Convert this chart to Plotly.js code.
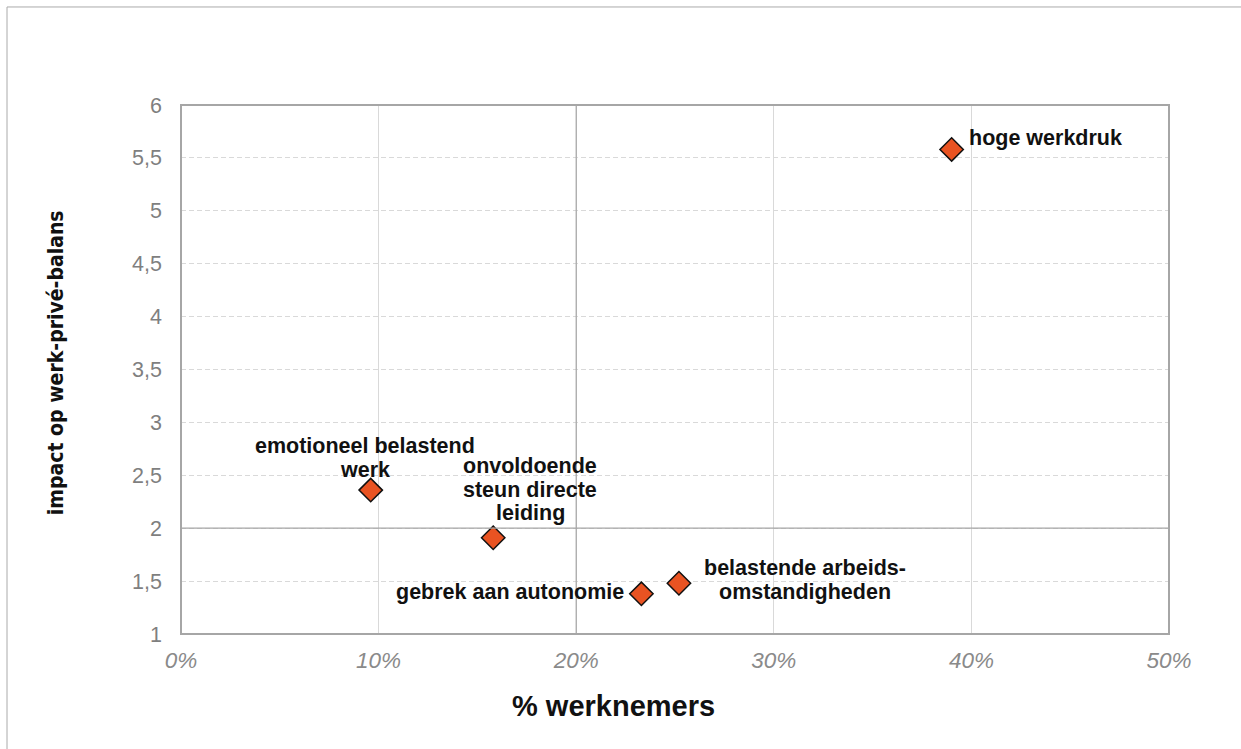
<!DOCTYPE html>
<html><head><meta charset="utf-8">
<script src="https://cdn.plot.ly/plotly-3.0.1.min.js"></script>
<style>html,body{margin:0;padding:0;background:#fff;}#chart{width:1241px;height:749px;}</style>
</head><body><div id="chart"></div>
<script>
const labels = ["hoge werkdruk", "emotioneel belastend<br>werk", "onvoldoende<br>steun directe<br>leiding", "gebrek aan autonomie", "belastende arbeids-<br>omstandigheden"];
const pctWorkers = [0.39, 0.096, 0.158, 0.233, 0.252];
const impact = [5.58, 2.36, 1.91, 1.38, 1.48];
const xTicks = [0, 0.1, 0.2, 0.3, 0.4, 0.5];
const yTicks = [1, 1.5, 2, 2.5, 3, 3.5, 4, 4.5, 5, 5.5, 6];
const refX = 0.2, refY = 2;

// label placement: [xanchor, xshift(px), yshift of block centre above marker(px)]
const placement = [
  ['left', 15, 11],
  ['center', -6, 32],
  ['center', 37, 48],
  ['right', -15, 2],
  ['center', 126, 3]
];
const lineGap = 23.5;
const labelFont = {family: 'Liberation Sans, Arial, sans-serif', size: 21.5, color: '#111'};

const annotations = [];
labels.forEach((t, i) => {
  const lines = t.split('<br>');
  const n = lines.length;
  lines.forEach((ln, j) => {
    annotations.push({
      x: pctWorkers[i], y: impact[i], xref: 'x', yref: 'y', text: '<b>' + ln + '</b>', showarrow: false,
      xanchor: placement[i][0], yanchor: 'middle',
      xshift: placement[i][1], yshift: placement[i][2] + ((n - 1) / 2 - j) * lineGap,
      font: labelFont, align: 'center'
    });
  });
});
annotations.push({
  xref: 'paper', yref: 'paper', x: 0.438, y: -0.136, yanchor: 'middle', xanchor: 'center', showarrow: false,
  text: '<b>% werknemers</b>', font: {family: 'Liberation Sans, Arial, sans-serif', size: 29, color: '#111'}
});
annotations.push({
  xref: 'paper', yref: 'paper', x: -0.1265, y: 0.512, xanchor: 'center', yanchor: 'middle', showarrow: false, textangle: -90,
  text: '<b>impact op werk-privé-balans</b>', font: {family: 'DejaVu Sans Condensed, DejaVu Sans, sans-serif', size: 21, color: '#111'}
});

const trace = {
  x: pctWorkers, y: impact, type: 'scatter', mode: 'markers', hoverinfo: 'skip',
  marker: {symbol: 'diamond', size: 18, color: '#E95322', line: {color: '#111', width: 1.5}}
};

const layout = {
  width: 1241, height: 749,
  margin: {l: 181, r: 72, t: 105, b: 115},
  paper_bgcolor: '#fff', plot_bgcolor: '#fff',
  separators: ',.',
  showlegend: false,
  xaxis: {
    range: [0, 0.5], tickvals: xTicks, tickformat: '.0%', zeroline: false,
    showgrid: true, gridcolor: '#d9d9d9', gridwidth: 1,
    showline: false, ticks: '', ticklabelstandoff: 10,
    tickfont: {family: 'Liberation Sans, Arial, sans-serif', size: 22.5, color: '#8a8a8a', style: 'italic'}
  },
  yaxis: {
    range: [1, 6], tickvals: yTicks, zeroline: false,
    showgrid: true, gridcolor: '#d9d9d9', gridwidth: 1, griddash: '5px,3px',
    showline: false, ticks: '', ticklabelstandoff: 18,
    tickfont: {family: 'Liberation Sans, Arial, sans-serif', size: 21.5, color: '#7f7f7f'}
  },
  shapes: [
    {type: 'line', xref: 'x', yref: 'paper', x0: refX, x1: refX, y0: 0, y1: 1, line: {color: '#a6a6a6', width: 1.2}},
    {type: 'line', xref: 'paper', yref: 'y', x0: 0, x1: 1, y0: refY, y1: refY, line: {color: '#a6a6a6', width: 1.2}},
    {type: 'rect', xref: 'paper', yref: 'paper', x0: 0, x1: 1, y0: 0, y1: 1, line: {color: '#a6a6a6', width: 2}},
    {type: 'line', xref: 'paper', yref: 'paper', x0: -0.1761, x1: -0.1761, y0: -0.3, y1: 1.1853, line: {color: '#aaaaaa', width: 1}},
    {type: 'line', xref: 'paper', yref: 'paper', x0: -0.1761, x1: 1.2, y0: 1.1853, y1: 1.1853, line: {color: '#aaaaaa', width: 1}}
  ],
  annotations: annotations
};

Plotly.newPlot('chart', [trace], layout, {displayModeBar: false, staticPlot: true});
</script></body></html>
